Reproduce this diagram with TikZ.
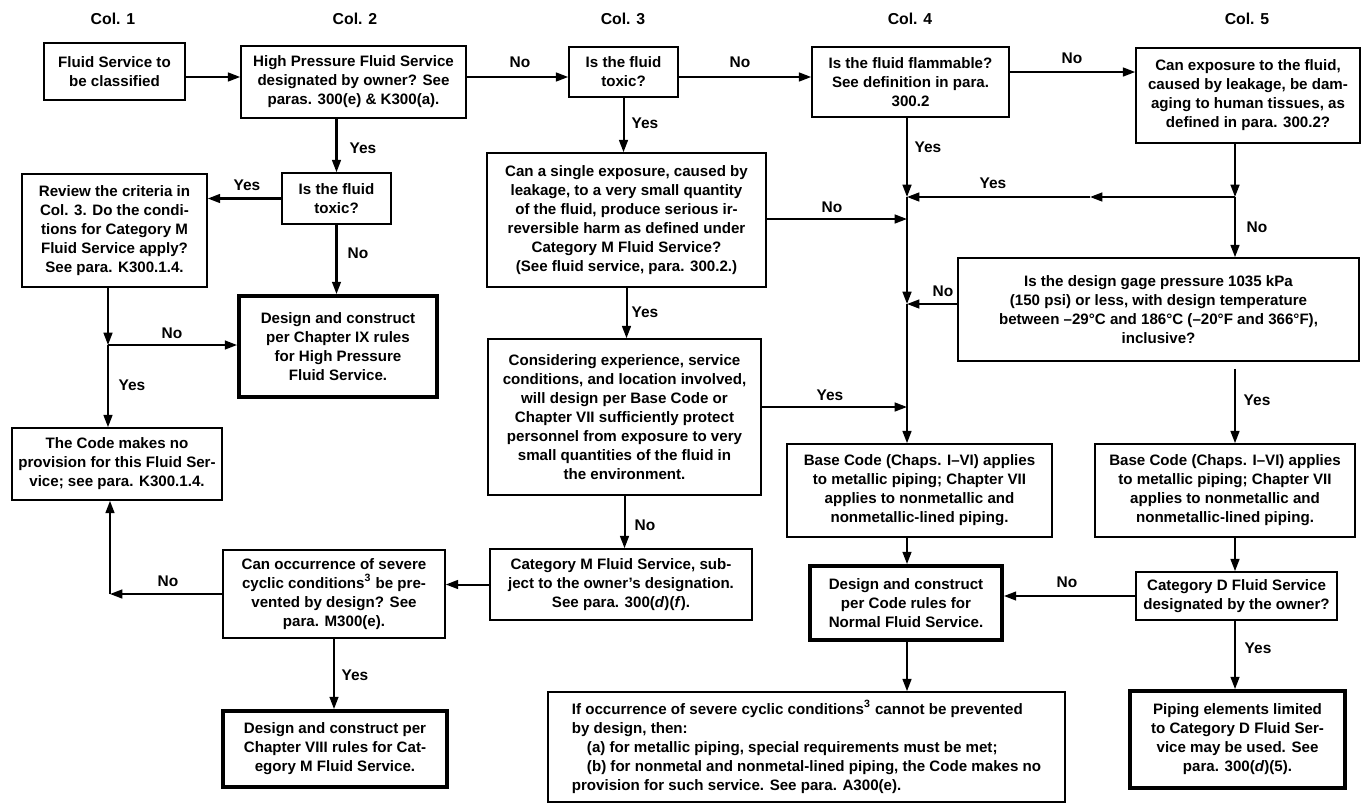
\documentclass[tikz,border=0pt]{standalone}
\usepackage{fontspec}
\setmainfont{Liberation Sans}
\usetikzlibrary{arrows.meta}
\tikzset{
  box/.style={draw=black,line width=0.9pt,align=center,inner sep=2pt,font=\bfseries\fontsize{8.6}{10.8}\selectfont},
  heavybox/.style={box,line width=2.2pt},
  lbl/.style={font=\bfseries\fontsize{8.8}{10}\selectfont,inner sep=1pt},
  coltitle/.style={font=\bfseries\fontsize{9}{10}\selectfont},
  arr/.style={line width=1.15pt,-{Triangle[length=7pt,width=5pt]}},
}

\begin{document}
\begin{tikzpicture}[x=0.02cm,y=-0.02cm]
\path[use as bounding box,fill=white] (0,0) rectangle (1361,805);

% column titles
\node[coltitle] (colA) at (113,19) {Col. 1};
\node[coltitle] (colB) at (355,19) {Col. 2};
\node[coltitle] (colC) at (623,19) {Col. 3};
\node[coltitle] (colD) at (910,19) {Col. 4};
\node[coltitle] (colE) at (1247,19) {Col. 5};

% col 1 and col 2
\node[box,minimum width=2.82cm,minimum height=1.14cm] (start) at (114.5,71.5) {Fluid Service to\\be classified};
\node[box,minimum width=4.5cm,minimum height=1.44cm] (hpOwner) at (353.5,82) {High Pressure Fluid Service\\designated by owner?  See\\paras. 300(e) \& K300(a).};
\node[box,minimum width=2.18cm,minimum height=1.02cm] (toxicB) at (336.5,198.5) {Is the fluid\\toxic?};
\node[box,minimum width=3.7cm,minimum height=2.26cm] (review) at (114.5,230.5) {Review the criteria in\\Col. 3.  Do the condi-\\tions for Category M\\Fluid Service apply?\\See para. K300.1.4.};
\node[heavybox,minimum width=3.96cm,minimum height=2.02cm] (chapIX) at (338,346.5) {Design and construct\\per Chapter IX rules\\for High Pressure\\Fluid Service.};
\node[box,minimum width=4.2cm,minimum height=1.44cm] (noCode) at (117,464) {The Code makes no\\provision for this Fluid Ser-\\vice; see para. K300.1.4.};
\node[box,minimum width=4.44cm,minimum height=1.76cm] (cyclic) at (334,594) {Can occurrence of severe\\cyclic conditions\textsuperscript{3} be pre-\\vented by design?  See\\para. M300(e).};
\node[heavybox,minimum width=4.48cm,minimum height=1.52cm] (chapVIII) at (335,749) {Design and construct per\\Chapter VIII rules for Cat-\\egory M Fluid Service.};

% col 3
\node[box,minimum width=2.18cm,minimum height=1.0cm] (toxicC) at (623.5,72) {Is the fluid\\toxic?};
\node[box,minimum width=5.58cm,minimum height=2.68cm] (single) at (626.5,220) {Can a single exposure, caused by\\leakage, to a very small quantity\\of the fluid, produce serious ir-\\reversible harm as defined under\\Category M Fluid Service?\\(See fluid service, para. 300.2.)};
\node[box,minimum width=5.46cm,minimum height=3.12cm] (consider) at (624.5,417) {Considering experience, service\\conditions, and location involved,\\will design per Base Code or\\Chapter VII sufficiently protect\\personnel from exposure to very\\small quantities of the fluid in\\the environment.};
\node[box,minimum width=5.24cm,minimum height=1.42cm] (catM) at (621,584.5) {Category M Fluid Service, sub-\\ject to the owner's designation.\\See para. 300(\textit{d})(\textit{f}).};

% col 4
\node[box,minimum width=3.94cm,minimum height=1.4cm] (flammable) at (910.5,82) {Is the fluid flammable?\\See definition in para.\\300.2};
\node[box,minimum width=5.3cm,minimum height=1.86cm] (baseD) at (919.5,490.5) {Base Code (Chaps. I–VI) applies\\to metallic piping; Chapter VII\\applies to nonmetallic and\\nonmetallic-lined piping.};
\node[heavybox,minimum width=3.84cm,minimum height=1.48cm] (normal) at (906,603) {Design and construct\\per Code rules for\\Normal Fluid Service.};
\node[box,align=left,minimum width=10.34cm,minimum height=2.2cm] (severe) at (806.5,747) {If occurrence of severe cyclic conditions\textsuperscript{3} cannot be prevented\\by design, then:\\\quad(a) for metallic piping, special requirements must be met;\\\quad(b) for nonmetal and nonmetal-lined piping, the Code makes no\\provision for such service. See para. A300(e).};

% col 5
\node[box,minimum width=4.48cm,minimum height=1.9cm] (tissue) at (1248,95.5) {Can exposure to the fluid,\\caused by leakage, be dam-\\aging to human tissues, as\\defined in para. 300.2?};
\node[box,minimum width=8.02cm,minimum height=2.06cm] (gage) at (1158.5,309.5) {Is the design gage pressure 1035 kPa\\(150 psi) or less, with design temperature\\between –29°C and 186°C  (–20°F and 366°F),\\inclusive?};
\node[box,minimum width=5.2cm,minimum height=1.86cm] (baseE) at (1225,490.5) {Base Code (Chaps. I–VI) applies\\to metallic piping; Chapter VII\\applies to nonmetallic and\\nonmetallic-lined piping.};
\node[box,minimum width=4.02cm,minimum height=0.96cm] (catD) at (1236.5,596) {Category D Fluid Service\\designated by the owner?};
\node[heavybox,minimum width=4.3cm,minimum height=1.94cm] (catDuse) at (1237.5,739.5) {Piping elements limited\\to Category D Fluid Ser-\\vice may be used. See\\para. 300(\textit{d})(5).};

% junction points
\coordinate (rowA) at (0,77);
\coordinate (rowB) at (0,72);
\coordinate (jRev) at (108,345);
\coordinate (jCyc) at (110,594);
\coordinate (jTop) at (907,197);
\coordinate (jSgl) at (907,219);
\coordinate (jGage) at (907,304);
\coordinate (jCons) at (907,407);
\coordinate (jTis) at (1235,197);
\coordinate (mTis) at (1090,197);

% connectors, top row
\draw[arr] (start.east |- rowA) -- (hpOwner.west |- rowA);
\draw[arr] (hpOwner.east |- rowA) -- (toxicC.west |- rowA);
\draw[arr] (toxicC.east |- rowA) -- (flammable.west |- rowA);
\draw[arr] (flammable.east |- rowB) -- (tissue.west |- rowB);

% col 1 and col 2
\draw[arr] (hpOwner.south -| toxicB) -- (toxicB.north);
\draw[arr] (toxicB.west) -- (toxicB.west -| review.east);
\draw[arr] (toxicB.south) -- (toxicB.south |- chapIX.north);
\draw[arr] (review.south -| jRev) -- (jRev);
\draw[arr] (jRev) -- (jRev -| chapIX.west);
\draw[arr] (jRev) -- (noCode.north -| jRev);
\draw[arr] (cyclic.west) -- (jCyc);
\draw[arr] (jCyc) -- (noCode.south -| jCyc);
\draw[arr] (cyclic.south) -- (cyclic.south |- chapVIII.north);

% col 3
\draw[arr] (toxicC.south) -- (toxicC.south |- single.north);
\draw[arr] (single.south) -- (single.south |- consider.north);
\draw[arr] (consider.south) -- (consider.south |- catM.north);
\draw[arr] (catM.west) -- (catM.west -| cyclic.east);
\draw[arr] (single.east |- jSgl) -- (jSgl);
\draw[arr] (consider.east |- jCons) -- (jCons);

% col 4
\draw[arr] (flammable.south -| jTop) -- (jTop);
\draw[arr] (jTop) -- (jGage);
\draw[arr] (jGage) -- (baseD.north -| jTop);
\draw[arr] (baseD.south -| jTop) -- (normal.north -| jTop);
\draw[arr] (normal.south -| jTop) -- (severe.north -| jTop);

% col 5
\draw[arr] (tissue.south -| jTis) -- (jTis);
\draw[arr] (jTis) -- (mTis);
\draw[arr] (mTis) -- (jTop);
\draw[arr] (jTis) -- (gage.north -| jTis);
\draw[arr] (gage.west |- jGage) -- (jGage);
\draw[arr,shorten <=4pt] (gage.south -| jTis) -- (baseE.north -| jTis);
\draw[arr] (baseE.south -| jTis) -- (catD.north -| jTis);
\draw[arr] (catD.south -| jTis) -- (catDuse.north -| jTis);
\draw[arr] (catD.west) -- (catD.west -| normal.east);

% yes / no labels
\node[lbl] (nHp) at (520,62) {No};
\node[lbl] (nToxC) at (740,62) {No};
\node[lbl] (nFlam) at (1072,58) {No};
\node[lbl] (yHp) at (363,148) {Yes};
\node[lbl] (yToxB) at (247,185) {Yes};
\node[lbl] (nToxB) at (358,253) {No};
\node[lbl] (nRev) at (172,333) {No};
\node[lbl] (yRev) at (132,385) {Yes};
\node[lbl] (nCyc) at (168,581) {No};
\node[lbl] (yCyc) at (355,675) {Yes};
\node[lbl] (yToxC) at (645,123) {Yes};
\node[lbl] (ySgl) at (645,312) {Yes};
\node[lbl] (nCons) at (645,525) {No};
\node[lbl] (nSgl) at (832,207) {No};
\node[lbl] (yCons) at (830,395) {Yes};
\node[lbl] (yFlam) at (928,147) {Yes};
\node[lbl] (yTis) at (993,183) {Yes};
\node[lbl] (nTis) at (1257,227) {No};
\node[lbl] (nGage) at (943,291) {No};
\node[lbl] (yGage) at (1257,400) {Yes};
\node[lbl] (nCatD) at (1067,582) {No};
\node[lbl] (yCatD) at (1258,648) {Yes};
\end{tikzpicture}
\end{document}
